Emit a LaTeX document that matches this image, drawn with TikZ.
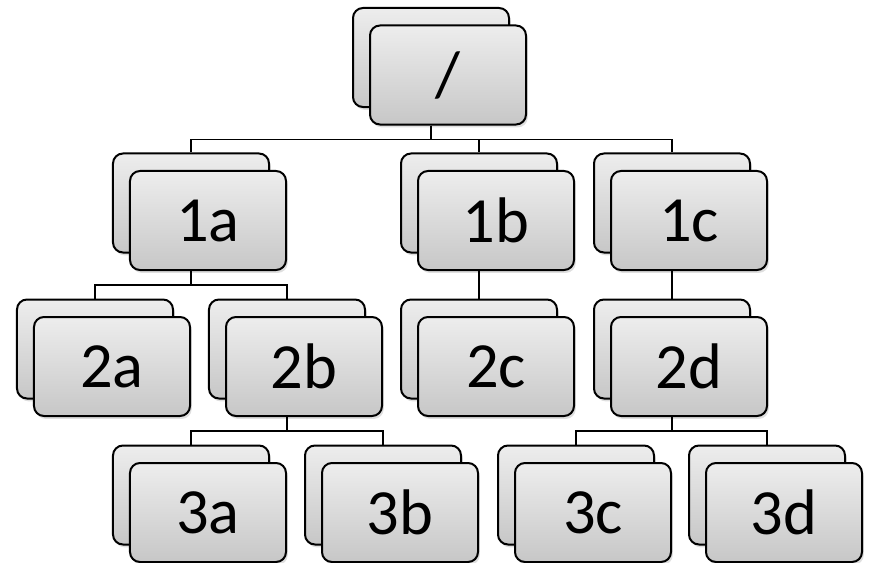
\documentclass[tikz,border=0pt]{standalone}
\usepackage{fontspec}
\setmainfont{Carlito}
\usepackage{tikz}
\usetikzlibrary{shadows, calc}

\begin{document}
\begin{tikzpicture}[
    x=0.03cm, y=-0.03cm,
    card/.style={rectangle, rounded corners=0.3cm, draw=black, line width=0.06cm,
                 minimum width=4.68cm, minimum height=2.97cm, inner sep=0pt,
                 top color=black!7, bottom color=black!22,
                 drop shadow={shadow xshift=1.5pt, shadow yshift=-2.5pt, opacity=0.25},
                 font=\fontsize{55}{60}\selectfont},
    link/.style={draw=black, line width=0.05cm}
]
    \useasboundingbox (0,0) rectangle (872,563);

    % Stacked cards: back copy first, then the labelled front card
    \foreach \name/\x/\y/\lbl in {r/431/57.5/{/},
                                  1a/191/203/1a, 1b/479/203/1b, 1c/672/203/1c,
                                  2a/95/349/2a, 2b/287/349/2b, 2c/479/349/2c, 2d/672/349/2d,
                                  3a/191/495/3a, 3b/383/495/3b, 3c/576/495/3c, 3d/767/495/3d} {
        \node[card] (\name-b) at (\x,\y) {};
        \node[card] (\name) at (\x+17,\y+17.5) {\lbl};
    }

    % Tree connectors
    \foreach \p/\c in {r/1a, r/1b, r/1c, 1a/2a, 1a/2b, 1b/2c, 1c/2d,
                       2b/3a, 2b/3b, 2d/3c, 2d/3d} {
        \draw[link] (\p-b |- \p.south) -- ++(0,14) -| (\c-b.north);
    }
\end{tikzpicture}
\end{document}
